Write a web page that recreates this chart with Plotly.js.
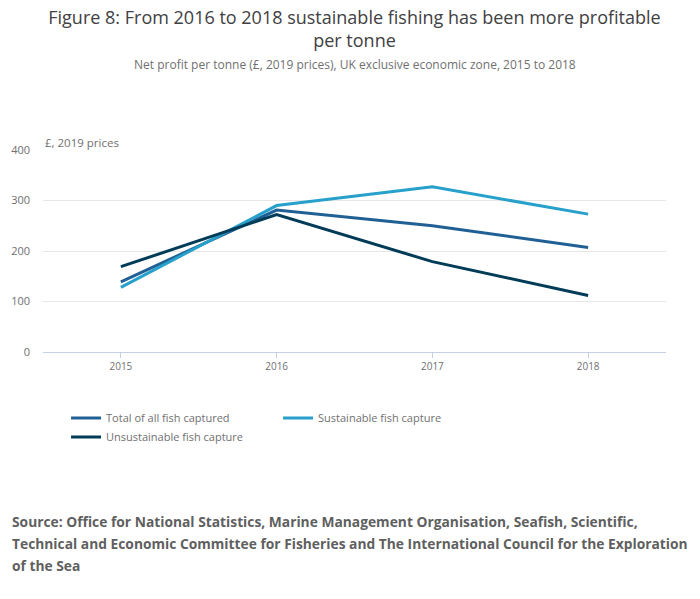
<!DOCTYPE html>
<html>
<head>
<meta charset="utf-8">
<script src="https://cdn.plot.ly/plotly-3.0.1.min.js"></script>
<style>
  body { margin: 0; background: #fff; }
  #chart { width: 700px; height: 599px; }
</style>
</head>
<body>
<div id="chart"></div>
<script>
// years on the x axis
var years = [2015, 2016, 2017, 2018];

// net profit per tonne, £ (2019 prices)
var totalCaptured = [139, 281, 250, 207];
var sustainableCapture = [128, 290, 327, 273];
var unsustainableCapture = [169, 272, 179, 112];

var seriesNames = ['Total of all fish captured', 'Sustainable fish capture', 'Unsustainable fish capture'];
var seriesColors = ['#206095', '#27a0cc', '#003c57'];

var yTicks = [0, 100, 200, 300, 400];

// source note, one entry per printed line
var sourceLines = [
  'Source: Office for National Statistics, Marine Management Organisation, Seafish, Scientific,',
  'Technical and Economic Committee for Fisheries and The International Council for the Exploration',
  'of the Sea'
];

function makeLine(values, i) {
  return {
    x: years,
    y: values,
    name: seriesNames[i],
    type: 'scatter',
    mode: 'lines',
    line: {color: seriesColors[i], width: 3},
    hoverinfo: 'x+y+name'
  };
}

var data = [totalCaptured, sustainableCapture, unsustainableCapture].map(makeLine);

var greyText = '#707071';

var annotations = [
  {
    text: 'Net profit per tonne (£, 2019 prices), UK exclusive economic zone, 2015 to 2018',
    xref: 'paper', yref: 'paper',
    x: 0.5, xanchor: 'center',
    y: (352 - 64) / 202, yanchor: 'middle',
    showarrow: false,
    font: {size: 12, color: greyText}
  },
  {
    text: '£, 2019 prices',
    xref: 'paper', yref: 'paper',
    x: 0, xanchor: 'left',
    y: 1, yanchor: 'bottom',
    yshift: -2,
    showarrow: false,
    font: {size: 11.5, color: greyText}
  }
];

// source lines sit 22px apart below the legend
sourceLines.forEach(function(line, i) {
  annotations.push({
    text: '<b>' + line + '</b>',
    xref: 'paper', yref: 'paper',
    x: (10 - 43) / 623, xanchor: 'left',
    y: (352 - (521 + 22 * i)) / 202, yanchor: 'middle',
    align: 'left',
    showarrow: false,
    font: {size: 13.8, color: '#5f5f5f'}
  });
});

var layout = {
  width: 700,
  height: 599,
  paper_bgcolor: '#fff',
  plot_bgcolor: '#fff',
  font: {family: '"Open Sans", sans-serif', color: greyText},
  margin: {l: 43, r: 34, t: 150, b: 247},
  title: {
    text: 'Figure 8: From 2016 to 2018 sustainable fishing has been more profitable<br>per tonne',
    font: {size: 18, color: '#414042', family: '"Open Sans", sans-serif'},
    x: 0.5,
    xref: 'paper',
    xanchor: 'center',
    y: 0.96,
    yref: 'container',
    yanchor: 'top'
  },
  xaxis: {
    range: [2014.5, 2018.5],
    tickvals: years,
    ticktext: years.map(String),
    showgrid: false,
    zeroline: false,
    showline: true,
    linecolor: '#c6d0e3',
    linewidth: 1,
    ticks: 'outside',
    ticklen: 5,
    tickcolor: '#c6d0e3',
    tickfont: {size: 10, color: greyText},
    fixedrange: true
  },
  yaxis: {
    range: [0, 400],
    tickvals: yTicks,
    showgrid: true,
    gridcolor: '#e6e6e6',
    zeroline: false,
    showline: false,
    ticks: '',
    ticklabelstandoff: 12,
    tickfont: {size: 11, color: greyText},
    fixedrange: true
  },
  showlegend: true,
  legend: {
    orientation: 'h',
    x: 0.037,
    xanchor: 'left',
    y: -0.255,
    yanchor: 'top',
    entrywidth: 167,
    entrywidthmode: 'pixels',
    font: {size: 11, color: greyText},
    tracegroupgap: 0
  },
  annotations: annotations
};

Plotly.newPlot('chart', data, layout, {displayModeBar: false, staticPlot: true});
</script>
</body>
</html>
